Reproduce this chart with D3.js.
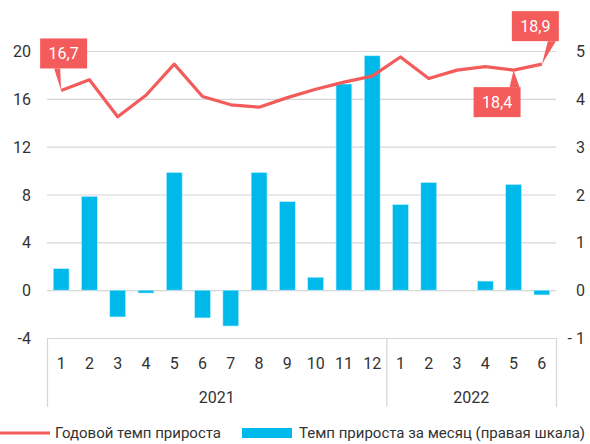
<!DOCTYPE html>
<html>
<head>
<meta charset="utf-8">
<script src="https://cdn.jsdelivr.net/npm/d3@7"></script>
<style>
  body { margin: 0; background: #fff; }
  svg text { font-family: Roboto, "Open Sans", sans-serif; fill: #333; }
</style>
</head>
<body>
<svg id="chart" width="590" height="444"></svg>
<script>
// months along the x axis, grouped by year
var months = ["1","2","3","4","5","6","7","8","9","10","11","12","1","2","3","4","5","6"];
var years = [{ year: "2021", from: 0, to: 12 }, { year: "2022", from: 12, to: 18 }];

// annual growth rate, % (left scale)
var annualRate = [16.7, 17.6, 14.5, 16.3, 18.9, 16.2, 15.5, 15.3, 16.1, 16.8, 17.4, 17.9,
                  19.5, 17.7, 18.4, 18.7, 18.4, 18.9];
// monthly growth rate, % (right scale)
var monthlyRate = [0.45, 1.96, -0.56, -0.06, 2.46, -0.58, -0.75, 2.46, 1.85, 0.27, 4.31, 4.9,
                   1.79, 2.25, 0, 0.19, 2.21, -0.1];

var leftTicks = [-4, 0, 4, 8, 12, 16, 20];
var rightTicks = [-1, 0, 1, 2, 3, 4, 5];

// callouts: index of point, text, box placement
var callouts = [
  { i: 0, text: "16,7", pos: "above-left" },
  { i: 16, text: "18,4", pos: "below-left" },
  { i: 17, text: "18,9", pos: "above-right" }
];

var lineColor = "#f45b5b";
var barColor = "#00b9eb";

var svg = d3.select("#chart");
var plotLeft = 47, plotRight = 556, plotTop = 51, plotBottom = 338;

var x = d3.scaleBand()
  .domain(d3.range(months.length))
  .range([plotLeft, plotRight])
  .paddingInner(0.44)
  .paddingOuter(0.22);

var yL = d3.scaleLinear().domain([-4, 20]).range([plotBottom, plotTop]);
var yR = d3.scaleLinear().domain([-1, 5]).range([plotBottom, plotTop]);

// gridlines
svg.append("g").selectAll("line")
  .data(leftTicks)
  .enter()
  .append("line")
  .attr("x1", plotLeft).attr("x2", plotRight)
  .attr("y1", function(d) { return yL(d) + 0.5 })
  .attr("y2", function(d) { return yL(d) + 0.5 })
  .style("stroke", "#d6d6d6")
  .style("stroke-width", 1.2);

// left labels
svg.append("g").selectAll("text")
  .data(leftTicks)
  .enter()
  .append("text")
  .attr("x", 31)
  .attr("y", function(d) { return yL(d) + 6 })
  .attr("text-anchor", "end")
  .style("font-size", "16px")
  .text(function(d) { return d });

// right labels
svg.append("g").selectAll("text")
  .data(rightTicks)
  .enter()
  .append("text")
  .attr("x", 585)
  .attr("y", function(d) { return yR(d) + 6 })
  .attr("text-anchor", "end")
  .style("font-size", "16px")
  .text(function(d) { return d < 0 ? "- " + Math.abs(d) : d });

// bars
svg.append("g").selectAll("rect")
  .data(monthlyRate)
  .enter()
  .append("rect")
  .attr("x", function(d, i) { return x(i) })
  .attr("width", x.bandwidth())
  .attr("y", function(d) { return yR(Math.max(0, d)) })
  .attr("height", function(d) { return Math.abs(yR(d) - yR(0)) })
  .style("fill", barColor)
  .style("stroke", "#bfefff")
  .style("stroke-width", 0.6);

// category axis: separators, months, years
var step = x.step();
var bounds = [0, 12, 18];
svg.append("g").selectAll("line")
  .data(bounds)
  .enter()
  .append("line")
  .attr("x1", function(d) { return plotLeft + d * step + 0.5 })
  .attr("x2", function(d) { return plotLeft + d * step + 0.5 })
  .attr("y1", plotBottom)
  .attr("y2", 407)
  .style("stroke", "#d6d6d6")
  .style("stroke-width", 1.2);

svg.append("g").selectAll("text")
  .data(months)
  .enter()
  .append("text")
  .attr("x", function(d, i) { return x(i) + x.bandwidth() / 2 })
  .attr("y", 369)
  .attr("text-anchor", "middle")
  .style("font-size", "16px")
  .text(function(d) { return d });

svg.append("g").selectAll("text")
  .data(years)
  .enter()
  .append("text")
  .attr("x", function(d) { return plotLeft + (d.from + d.to) / 2 * step })
  .attr("y", 403)
  .attr("text-anchor", "middle")
  .style("font-size", "16px")
  .text(function(d) { return d.year });

// annual line
var line = d3.line()
  .x(function(d, i) { return x(i) + x.bandwidth() / 2 })
  .y(function(d) { return yL(d) });

svg.append("path")
  .datum(annualRate)
  .attr("d", line)
  .style("fill", "none")
  .style("stroke", lineColor)
  .style("stroke-width", 3.2)
  .style("stroke-linejoin", "round");

// callouts
var bw = 47, bh = 30;
callouts.forEach(function(c) {
  var px = x(c.i) + x.bandwidth() / 2, py = yL(annualRate[c.i]);
  var bx, by, pts;
  if (c.pos == "above-left") {
    bx = px - 21; by = py - 52;
    pts = [[bx + 14, by + bh], [bx + 20, by + bh], [px, py]];
  } else if (c.pos == "below-left") {
    bx = px - 40; by = py + 17;
    pts = [[bx + 36, by], [bx + 46, by], [px, py]];
  } else {
    bx = px - 30; by = py - 53;
    pts = [[bx + 36, by + bh], [bx + 44, by + bh], [px, py]];
  }
  var g = svg.append("g");
  g.append("polygon")
    .attr("points", pts.map(function(p) { return p.join(",") }).join(" "))
    .style("fill", lineColor);
  g.append("rect")
    .attr("x", bx).attr("y", by)
    .attr("width", bw).attr("height", bh)
    .style("fill", lineColor);
  g.append("text")
    .attr("x", bx + bw / 2)
    .attr("y", by + bh / 2 + 6)
    .attr("text-anchor", "middle")
    .style("font-size", "16px")
    .style("fill", "#fff")
    .text(c.text);
});

// legend
var lg = svg.append("g");
lg.append("line")
  .attr("x1", 0).attr("x2", 50)
  .attr("y1", 433).attr("y2", 433)
  .style("stroke", lineColor)
  .style("stroke-width", 3.2);
lg.append("text")
  .attr("x", 55).attr("y", 438)
  .style("font-size", "15px")
  .text("Годовой темп прироста");
lg.append("rect")
  .attr("x", 242).attr("y", 428)
  .attr("width", 50).attr("height", 10)
  .style("fill", barColor);
lg.append("text")
  .attr("x", 299).attr("y", 438)
  .style("font-size", "15px")
  .text("Темп прироста за месяц (правая шкала)");
</script>
</body>
</html>
